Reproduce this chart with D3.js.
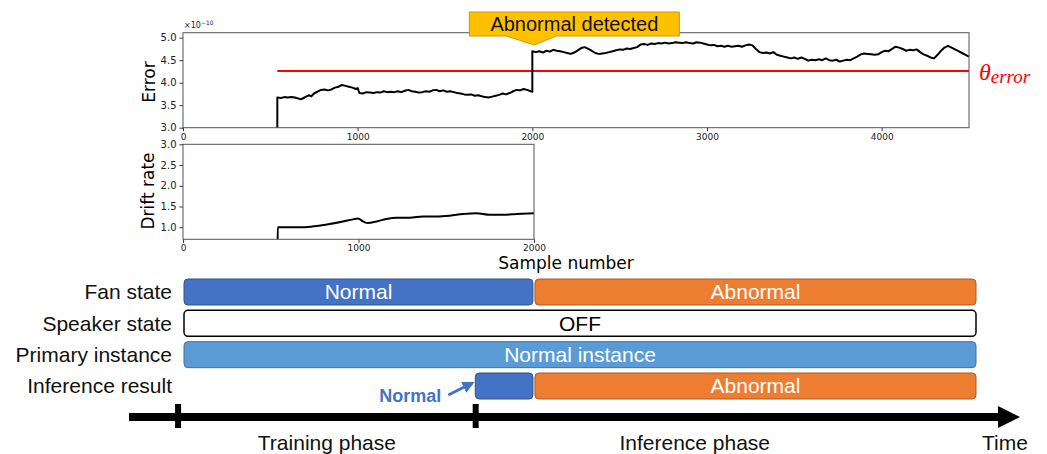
<!DOCTYPE html>
<html>
<head>
<meta charset="utf-8">
<script src="https://cdn.jsdelivr.net/npm/d3@7"></script>
<style>
  body { margin: 0; background: #fff; }
  svg { display: block; }
</style>
</head>
<body>
<div id="chart"></div>
<script>
// error trace (x 1e-10)
var errSample = [540, 540, 560, 580, 600, 620, 640, 660, 675, 690, 705, 720, 735, 750, 770, 790, 810, 830, 850, 870, 890, 910, 930, 950, 970, 990, 1000,
  1010, 1030, 1050, 1070, 1090, 1110, 1130, 1150, 1170, 1190, 1210, 1230, 1250, 1270, 1290, 1310, 1330, 1350, 1370, 1390, 1410, 1430, 1450, 1470, 1490,
  1510, 1530, 1550, 1570, 1590, 1610, 1630, 1650, 1670, 1690, 1710, 1730, 1750, 1770, 1790, 1810, 1830, 1850, 1870, 1890, 1910, 1930, 1950, 1970, 1990, 2000,
  2000, 2020, 2040, 2060, 2080, 2100, 2120, 2140, 2160, 2180, 2200, 2220, 2240, 2260, 2280, 2300, 2320, 2340, 2360, 2380, 2400, 2420, 2440, 2460, 2480,
  2500, 2520, 2540, 2560, 2580, 2600, 2620, 2640, 2660, 2680, 2700, 2720, 2740, 2760, 2780, 2800, 2820, 2840, 2860, 2880, 2900, 2920, 2940, 2960, 2980,
  3000, 3020, 3040, 3060, 3080, 3100, 3120, 3140, 3160, 3180, 3200, 3220, 3240, 3260, 3280, 3300, 3320, 3340, 3360, 3380, 3400, 3420, 3440, 3460, 3480,
  3500, 3520, 3540, 3560, 3580, 3600, 3620, 3640, 3660, 3680, 3700, 3720, 3740, 3760, 3780, 3800, 3820, 3840, 3860, 3880, 3900, 3920, 3940, 3960, 3980,
  4000, 4020, 4040, 4060, 4080, 4100, 4120, 4140, 4160, 4180, 4200, 4220, 4240, 4260, 4280, 4300, 4320, 4340, 4360, 4380, 4400, 4420, 4440, 4460, 4480, 4500];
var errValue = [3.00, 3.67, 3.66, 3.68, 3.67, 3.68, 3.67, 3.65, 3.63, 3.66, 3.69, 3.72, 3.70, 3.76, 3.80, 3.84, 3.85, 3.83, 3.85, 3.89, 3.91, 3.95, 3.93, 3.91, 3.89, 3.86, 3.88,
  3.77, 3.76, 3.79, 3.78, 3.77, 3.79, 3.78, 3.81, 3.79, 3.80, 3.79, 3.81, 3.79, 3.82, 3.84, 3.81, 3.80, 3.78, 3.79, 3.81, 3.80, 3.83, 3.84, 3.81, 3.83,
  3.80, 3.81, 3.79, 3.77, 3.76, 3.74, 3.73, 3.74, 3.71, 3.72, 3.70, 3.68, 3.67, 3.69, 3.71, 3.73, 3.76, 3.74, 3.77, 3.81, 3.84, 3.83, 3.86, 3.84, 3.81, 3.80,
  4.70, 4.68, 4.70, 4.67, 4.71, 4.69, 4.73, 4.71, 4.70, 4.68, 4.66, 4.64, 4.67, 4.72, 4.77, 4.79, 4.75, 4.71, 4.66, 4.64, 4.65, 4.66, 4.68, 4.70, 4.72,
  4.74, 4.73, 4.76, 4.75, 4.77, 4.79, 4.85, 4.86, 4.84, 4.87, 4.86, 4.88, 4.87, 4.89, 4.87, 4.88, 4.90, 4.89, 4.88, 4.90, 4.88, 4.87, 4.90, 4.89, 4.87,
  4.85, 4.83, 4.84, 4.81, 4.82, 4.80, 4.82, 4.80, 4.81, 4.82, 4.80, 4.83, 4.85, 4.83, 4.75, 4.68, 4.66, 4.67, 4.65, 4.68, 4.62, 4.60, 4.58, 4.56, 4.54,
  4.56, 4.53, 4.56, 4.53, 4.49, 4.51, 4.50, 4.52, 4.50, 4.54, 4.50, 4.49, 4.51, 4.47, 4.49, 4.51, 4.50, 4.54, 4.58, 4.63, 4.65, 4.64, 4.63, 4.62, 4.63,
  4.68, 4.71, 4.70, 4.75, 4.80, 4.78, 4.75, 4.71, 4.73, 4.72, 4.74, 4.68, 4.63, 4.60, 4.56, 4.54, 4.62, 4.71, 4.78, 4.82, 4.78, 4.74, 4.70, 4.66, 4.62, 4.58];
var errThreshold = 4.26;
var errTicksY = [3.0, 3.5, 4.0, 4.5, 5.0];
var errTicksX = [0, 1000, 2000, 3000, 4000];

// drift rate during training
var driftSample = [539, 540, 600, 684, 760, 836, 912, 969, 997, 1026, 1054, 1102, 1159, 1216, 1292, 1368, 1444, 1520, 1596, 1672, 1748, 1824, 1900, 2000];
var driftValue = [0.60, 1.00, 1.00, 1.00, 1.03, 1.08, 1.14, 1.19, 1.21, 1.14, 1.10, 1.14, 1.20, 1.23, 1.23, 1.26, 1.26, 1.28, 1.32, 1.34, 1.30, 1.30, 1.32, 1.34];
var driftTicksY = [1.0, 1.5, 2.0, 2.5, 3.0];
var driftTicksX = [0, 1000, 2000];

// state rows: [start sample, end sample, label, kind]
var rowLabels = ["Fan state", "Speaker state", "Primary instance", "Inference result"];
var fanState = [[0, 2000, "Normal", "normal"], [2000, 4525, "Abnormal", "abnormal"]];
var speakerState = [[0, 4525, "OFF", "off"]];
var primaryState = [[0, 4525, "Normal instance", "instance"]];
var inferState = [[1660, 2000, "", "normal"], [2000, 4525, "Abnormal", "abnormal"]];
var phaseTicks = [-28, 1668];
var phaseLabels = ["Training phase", "Inference phase"];

var colors = {
  normal: ["#4472C4", "#2F528F", "#fff"],
  abnormal: ["#ED7D31", "#AE5A21", "#fff"],
  instance: ["#5B9BD5", "#41719C", "#fff"],
  off: ["#fff", "#000", "#000"]
};

var MPL = "DejaVu Sans, sans-serif";
var ARIAL = "Liberation Sans, Arial, sans-serif";

var W = 1047, H = 454;
var svg = d3.select("#chart").append("svg").attr("width", W).attr("height", H);

function styleAxis(g, size) {
  g.select(".domain").remove();
  g.selectAll("text").attr("font-family", MPL).attr("font-size", size).attr("fill", "#222");
  g.selectAll("line").attr("stroke", "#333");
}

// ---------- error panel ----------
var xe = d3.scaleLinear().domain([0, 4500]).range([183, 969]);
var ye = d3.scaleLinear().domain([3.0, 5.111]).range([127.7, 32.7]);

var ge = svg.append("g");
ge.append("g").attr("transform", "translate(0," + ye.range()[0] + ")")
  .call(d3.axisBottom(xe).tickValues(errTicksX).tickFormat(d3.format("d")).tickSize(3.5).tickPadding(2))
  .call(styleAxis, 9);
ge.append("g").attr("transform", "translate(" + xe.range()[0] + ",0)")
  .call(d3.axisLeft(ye).tickValues(errTicksY).tickFormat(d3.format(".1f")).tickSize(3.5).tickPadding(3))
  .call(styleAxis, 10);

ge.append("line")
  .attr("x1", xe(540)).attr("x2", xe(4500))
  .attr("y1", ye(errThreshold)).attr("y2", ye(errThreshold))
  .attr("stroke", "#ff0000").attr("stroke-width", 2);

var errData = errSample.map(function(s, i) { return [s, errValue[i]]; });
ge.append("path").datum(errData)
  .attr("fill", "none").attr("stroke", "#000").attr("stroke-width", 2).attr("stroke-linejoin", "round")
  .attr("d", d3.line().x(function(d) { return xe(d[0]); }).y(function(d) { return ye(d[1]); }));

ge.append("rect")
  .attr("x", xe.range()[0]).attr("y", ye.range()[1])
  .attr("width", xe.range()[1] - xe.range()[0]).attr("height", ye.range()[0] - ye.range()[1])
  .attr("fill", "none").attr("stroke", "#555").attr("stroke-width", 1);

var sci = ge.append("text").attr("x", 184).attr("y", 28)
  .attr("font-family", MPL).attr("font-size", 8).attr("fill", "#222");
sci.append("tspan").text("\u00d710");
sci.append("tspan").attr("dy", -3).attr("font-size", 6).text("\u221210");

ge.append("text").attr("transform", "translate(155,82) rotate(-90)")
  .attr("font-family", MPL).attr("text-anchor", "middle").attr("font-size", 17).text("Error");

var th = svg.append("text").attr("x", 979).attr("y", ye(errThreshold) + 9)
  .attr("fill", "#ff0000").attr("font-family", "Liberation Serif, serif").attr("font-style", "italic");
th.append("tspan").attr("font-size", 24).text("\u03b8");
th.append("tspan").attr("dy", 3).attr("font-size", 19).text("error");

// callout
var cx = xe(2000);
svg.append("path")
  .attr("d", "M" + (cx - 63) + ",12 H" + (cx + 147) + " V36 H" + (cx + 24) + " L" + (cx + 2) + ",45 L" + (cx - 26) + ",36 H" + (cx - 63) + " Z")
  .attr("fill", "#FFC000").attr("stroke", "#C99A00").attr("stroke-width", 1);
svg.append("text").attr("x", cx + 42).attr("y", 31)
  .attr("font-family", ARIAL).attr("text-anchor", "middle").attr("font-size", 20).attr("fill", "#111").text("Abnormal detected");

// ---------- drift panel ----------
var xd = d3.scaleLinear().domain([0, 2000]).range([183, 534]);
var yd = d3.scaleLinear().domain([0.71, 3.0]).range([239.3, 144.3]);

var gd = svg.append("g");
gd.append("defs").append("clipPath").attr("id", "dclip").append("rect")
  .attr("x", xd.range()[0]).attr("y", yd.range()[1])
  .attr("width", xd.range()[1] - xd.range()[0]).attr("height", yd.range()[0] - yd.range()[1]);
gd.append("g").attr("transform", "translate(0," + yd.range()[0] + ")")
  .call(d3.axisBottom(xd).tickValues(driftTicksX).tickFormat(d3.format("d")).tickSize(3.5).tickPadding(2))
  .call(styleAxis, 9);
gd.append("g").attr("transform", "translate(" + xd.range()[0] + ",0)")
  .call(d3.axisLeft(yd).tickValues(driftTicksY).tickFormat(d3.format(".1f")).tickSize(3.5).tickPadding(3))
  .call(styleAxis, 10);

var driftData = driftSample.map(function(s, i) { return [s, driftValue[i]]; });
gd.append("path").datum(driftData).attr("clip-path", "url(#dclip)")
  .attr("fill", "none").attr("stroke", "#000").attr("stroke-width", 2)
  .attr("d", d3.line().x(function(d) { return xd(d[0]); }).y(function(d) { return yd(d[1]); }).curve(d3.curveMonotoneX));

gd.append("rect")
  .attr("x", xd.range()[0]).attr("y", yd.range()[1])
  .attr("width", xd.range()[1] - xd.range()[0]).attr("height", yd.range()[0] - yd.range()[1])
  .attr("fill", "none").attr("stroke", "#555").attr("stroke-width", 1);

gd.append("text").attr("transform", "translate(154,191) rotate(-90)")
  .attr("font-family", MPL).attr("text-anchor", "middle").attr("font-size", 17).text("Drift rate");
gd.append("text").attr("x", 566).attr("y", 269)
  .attr("font-family", MPL).attr("text-anchor", "middle").attr("font-size", 17).text("Sample number");

// ---------- state rows ----------
var t = d3.scaleLinear().domain([0, 4525]).range([183, 977]);
var yr = d3.scaleBand().domain(rowLabels).range([279, 399]).paddingInner(0.17).paddingOuter(0);
var rows = [fanState, speakerState, primaryState, inferState];

var gs = svg.append("g");
gs.selectAll("text.rowlab").data(rowLabels).enter().append("text")
  .attr("class", "rowlab")
  .attr("x", 172).attr("y", function(d) { return yr(d) + yr.bandwidth() / 2; })
  .attr("dy", "0.35em").attr("text-anchor", "end")
  .attr("font-family", ARIAL).attr("font-size", 21).attr("fill", "#111").text(function(d) { return d; });

rows.forEach(function(segs, ri) {
  var y0 = yr(rowLabels[ri]);
  var g = gs.append("g");
  g.selectAll("rect").data(segs).enter().append("rect")
    .attr("x", function(d) { return t(d[0]) + 1; })
    .attr("y", y0)
    .attr("width", function(d) { return t(d[1]) - t(d[0]) - 2; })
    .attr("height", yr.bandwidth())
    .attr("rx", 4).attr("ry", 4)
    .attr("fill", function(d) { return colors[d[3]][0]; })
    .attr("stroke", function(d) { return colors[d[3]][1]; })
    .attr("stroke-width", function(d) { return d[3] === "off" ? 1.5 : 1; });
  g.selectAll("text").data(segs).enter().append("text")
    .attr("x", function(d) { return (t(d[0]) + t(d[1])) / 2; })
    .attr("y", y0 + yr.bandwidth() / 2)
    .attr("dy", "0.35em").attr("text-anchor", "middle")
    .attr("font-family", ARIAL).attr("font-size", 21)
    .attr("fill", function(d) { return colors[d[3]][2]; })
    .text(function(d) { return d[2]; });
});

// "Normal" callout arrow
var nx = t(inferState[0][0]);
var ny = yr(rowLabels[3]);
svg.append("defs").append("marker").attr("id", "ah")
  .attr("viewBox", "0 0 10 10").attr("refX", 8).attr("refY", 5)
  .attr("markerWidth", 4).attr("markerHeight", 4).attr("orient", "auto")
  .append("path").attr("d", "M0,0 L10,5 L0,10 Z").attr("fill", "#4472C4");
svg.append("line").attr("x1", nx - 26).attr("y1", ny + 22).attr("x2", nx - 2).attr("y2", ny + 10)
  .attr("stroke", "#4472C4").attr("stroke-width", 3).attr("marker-end", "url(#ah)");
svg.append("text").attr("x", nx - 33).attr("y", ny + 29)
  .attr("text-anchor", "end").attr("font-family", ARIAL).attr("font-size", 18).attr("font-weight", "bold")
  .attr("fill", "#4472C4").text("Normal");

// ---------- time axis ----------
var ya = 417;
svg.append("line").attr("x1", 129).attr("x2", 1000).attr("y1", ya).attr("y2", ya)
  .attr("stroke", "#000").attr("stroke-width", 8);
svg.append("path").attr("d", "M998," + (ya - 11) + " L1020," + ya + " L998," + (ya + 11) + " Z").attr("fill", "#000");
svg.selectAll("rect.ptick").data(phaseTicks).enter().append("rect")
  .attr("class", "ptick")
  .attr("x", function(d) { return t(d) - 3; }).attr("y", ya - 13)
  .attr("width", 6).attr("height", 24).attr("fill", "#000");

var phaseEnds = [phaseTicks[0], phaseTicks[1], 4165];
svg.selectAll("text.phase").data(phaseLabels).enter().append("text")
  .attr("class", "phase")
  .attr("x", function(d, i) { return (t(phaseEnds[i]) + t(phaseEnds[i + 1])) / 2; })
  .attr("y", 450).attr("text-anchor", "middle")
  .attr("font-family", ARIAL).attr("font-size", 21).attr("fill", "#111")
  .text(function(d) { return d; });
svg.append("text").attr("x", 1005).attr("y", 450)
  .attr("text-anchor", "middle").attr("font-family", ARIAL).attr("font-size", 21).attr("fill", "#111").text("Time");
</script>
</body>
</html>
